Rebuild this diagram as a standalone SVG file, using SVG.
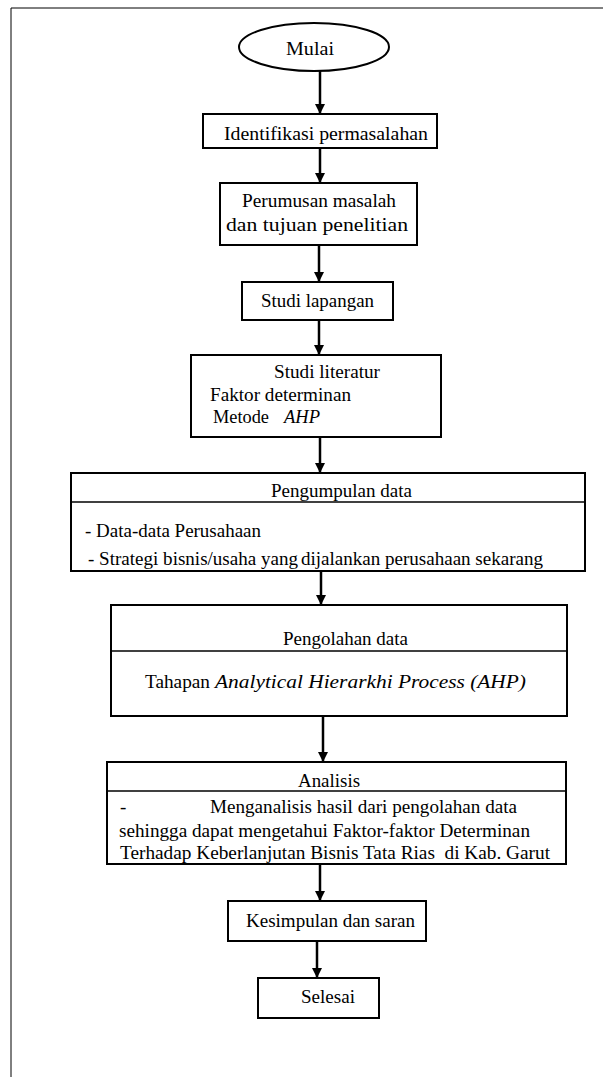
<svg xmlns="http://www.w3.org/2000/svg" width="603" height="1077" viewBox="0 0 603 1077">
<style>
.box{fill:#fff;stroke:#000;stroke-width:2}
.div{stroke:#000;stroke-width:1.5;fill:none}
.t{font-family:"Liberation Serif","Times New Roman",serif;font-size:19px;fill:#000}
.i{font-style:italic}
.c{stroke:#000;stroke-width:2.5;fill:none;marker-end:url(#ah)}
</style>
<defs>
<marker id="ah" markerWidth="10" markerHeight="12" refX="10" refY="5" orient="auto" markerUnits="userSpaceOnUse" viewBox="0 0 10 10">
<path d="M0,0 L10,5 L0,10 Z" fill="#000"/>
</marker>
</defs>
<rect width="603" height="1077" fill="#fff"/>
<g id="frame">
<path d="M11,1077 V8 H603" stroke="#000" stroke-width="1" fill="none"/>
</g>
<g id="connectors">
<path class="c" d="M320,71 V114"/>
<path class="c" d="M320,148 V183"/>
<path class="c" d="M319,245 V282"/>
<path class="c" d="M319,320 V355"/>
<path class="c" d="M320,437 V473"/>
<path class="c" d="M321,571 V605"/>
<path class="c" d="M323,713 V762"/>
<path class="c" d="M320,865 V901"/>
<path class="c" d="M317,941 V978"/>
</g>
<g id="mulai">
<ellipse class="box" cx="314" cy="47" rx="75" ry="24"/>
<text class="t" x="286" y="55" textLength="48" lengthAdjust="spacingAndGlyphs">Mulai</text>
</g>
<g id="identifikasi">
<rect class="box" x="203" y="114" width="234" height="34"/>
<text class="t" x="224" y="140" textLength="204" lengthAdjust="spacingAndGlyphs">Identifikasi permasalahan</text>
</g>
<g id="perumusan">
<rect class="box" x="220" y="183" width="197" height="62"/>
<text class="t" x="242" y="207" textLength="154" lengthAdjust="spacingAndGlyphs">Perumusan masalah</text>
<text class="t" x="226" y="231" textLength="182" lengthAdjust="spacingAndGlyphs">dan tujuan penelitian</text>
</g>
<g id="studi-lapangan">
<rect class="box" x="242" y="282" width="151" height="38"/>
<text class="t" x="261" y="307" textLength="113" lengthAdjust="spacingAndGlyphs">Studi lapangan</text>
</g>
<g id="studi-literatur">
<rect class="box" x="191" y="355" width="250" height="82"/>
<text class="t" x="274" y="378" textLength="106" lengthAdjust="spacingAndGlyphs">Studi literatur</text>
<text class="t" x="210" y="401" textLength="141" lengthAdjust="spacingAndGlyphs">Faktor determinan</text>
<text class="t" x="213" y="423"><tspan textLength="56" lengthAdjust="spacingAndGlyphs">Metode</tspan> <tspan class="i" x="284" textLength="36" lengthAdjust="spacingAndGlyphs">AHP</tspan></text>
</g>
<g id="pengumpulan">
<rect class="box" x="71" y="473" width="514" height="98"/>
<line class="div" x1="71" y1="502" x2="585" y2="502"/>
<text class="t" x="271" y="497" textLength="141" lengthAdjust="spacingAndGlyphs">Pengumpulan data</text>
<text class="t" x="85" y="537" textLength="176" lengthAdjust="spacingAndGlyphs">- Data-data Perusahaan</text>
<text class="t" x="88" y="565"><tspan textLength="210" lengthAdjust="spacingAndGlyphs">- Strategi bisnis/usaha yang</tspan> <tspan x="301" textLength="242" lengthAdjust="spacingAndGlyphs">dijalankan perusahaan sekarang</tspan></text>
</g>
<g id="pengolahan">
<rect class="box" x="111" y="605" width="456" height="111" stroke-width="2.5"/>
<line class="div" x1="111" y1="651" x2="567" y2="651"/>
<text class="t" x="283" y="645" textLength="125" lengthAdjust="spacingAndGlyphs">Pengolahan data</text>
<text class="t" x="145" y="688"><tspan textLength="65" lengthAdjust="spacingAndGlyphs">Tahapan</tspan> <tspan class="i" x="215" textLength="311" lengthAdjust="spacingAndGlyphs">Analytical Hierarkhi Process (AHP)</tspan></text>
</g>
<g id="analisis">
<rect class="box" x="107" y="762" width="459" height="102"/>
<line class="div" x1="107" y1="791" x2="566" y2="791"/>
<text class="t" x="298" y="787" textLength="62" lengthAdjust="spacingAndGlyphs">Analisis</text>
<text class="t" x="120" y="813">- <tspan x="210" textLength="307" lengthAdjust="spacingAndGlyphs">Menganalisis hasil dari pengolahan data</tspan></text>
<text class="t" x="119" y="837" textLength="411" lengthAdjust="spacingAndGlyphs">sehingga dapat mengetahui Faktor-faktor Determinan</text>
<text class="t" x="120" y="859" textLength="430" lengthAdjust="spacingAndGlyphs">Terhadap Keberlanjutan Bisnis Tata Rias&#160; di Kab. Garut</text>
</g>
<g id="kesimpulan">
<rect class="box" x="228" y="901" width="198" height="40"/>
<text class="t" x="246" y="927" textLength="169" lengthAdjust="spacingAndGlyphs">Kesimpulan dan saran</text>
</g>
<g id="selesai">
<rect class="box" x="258" y="978" width="121" height="40"/>
<text class="t" x="301" y="1003" textLength="54" lengthAdjust="spacingAndGlyphs">Selesai</text>
</g>
</svg>
